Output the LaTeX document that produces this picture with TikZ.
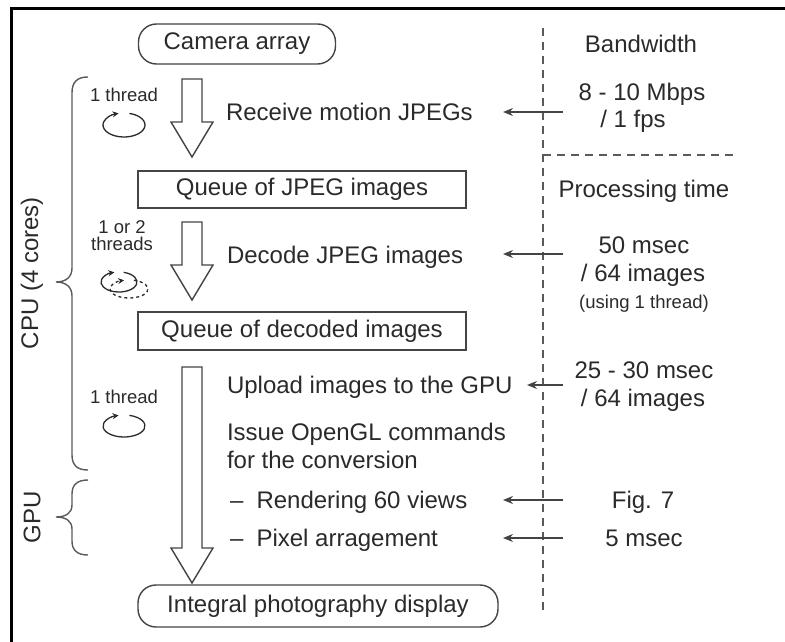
\documentclass[tikz,border=0pt]{standalone}
\usepackage{fontspec}
\setmainfont{Liberation Sans}
\usetikzlibrary{arrows.meta,calc}
\definecolor{ink}{HTML}{2A2A2A}
\definecolor{lin}{HTML}{444444}
\definecolor{brc}{HTML}{5A5A5A}
\newcommand{\blockarrow}[2]{%
  \draw[hollow] ($(#1)+(-10,0)$) -- ($(#1)+(10,0)$) -- ($(#2)+(10,-35)$) -- ($(#2)+(21,-35)$) -- (#2) -- ($(#2)+(-21,-35)$) -- ($(#2)+(-10,-35)$) -- cycle;}
\begin{document}
\begin{tikzpicture}[x=1pt,y=-1pt,
  every node/.style={text=ink, inner sep=0pt, outer sep=0pt},
  big/.style={font=\fontsize{24}{28}\selectfont},
  small/.style={font=\fontsize{18.5}{20}\selectfont},
  qbox/.style={draw=lin, line width=1.4pt, minimum width=328pt, minimum height=37pt, big},
  pill/.style={draw=lin, line width=1.4pt, rounded corners=18pt, minimum height=40pt, big},
  conn/.style={draw=lin, line width=1.4pt, -{Stealth[length=10pt,width=8pt]}},
  hollow/.style={draw=lin, fill=white, line width=1.4pt, line join=miter},
  bracel/.style={draw=brc, line width=1.4pt},
  sepline/.style={draw=brc, line width=1.6pt, dash pattern=on 8pt off 6pt},
  frameline/.style={draw=black, line width=3pt},
  cyc/.style={draw=ink, line width=1.3pt, -{Stealth[length=6pt,width=6pt]}},
]
\useasboundingbox (0,0) rectangle (785,642);
\draw[frameline] (11,642) -- (11,9) -- (785,9);

% separators
\coordinate (vs1) at (543,28);
\coordinate (vs2) at (543,613);
\coordinate (hs1) at (543,155);
\coordinate (hs2) at (737,155);
\draw[sepline] (vs1) -- (vs2);
\draw[sepline] (hs1) -- (hs2);

% main boxes
\node[pill, minimum width=197pt] (cam) at (237,44) {Camera array};
\node[qbox] (q1) at (302,189.5) {Queue of JPEG images};
\node[qbox, minimum height=38pt] (q2) at (302,331) {Queue of decoded images};
\node[pill, minimum width=360pt, minimum height=42pt] (ip) at (318,606) {Integral photography display};

% block arrows
\coordinate (a1s) at (192,79);  \coordinate (a1t) at (192,157);
\coordinate (a2s) at (192,222); \coordinate (a2t) at (192,300);
\coordinate (a3s) at (192,367); \coordinate (a3t) at (192,583);
\blockarrow{a1s}{a1t}
\blockarrow{a2s}{a2t}
\blockarrow{a3s}{a3t}

% step labels
\node[big, anchor=base west] (recv) at (226,121) {Receive motion JPEGs};
\node[big, anchor=base west] (dec) at (227,263) {Decode JPEG images};
\node[big, anchor=base west] (upl) at (227,393) {Upload images to the GPU};
\node[big, anchor=base west] (ogl1) at (227,440) {Issue OpenGL commands};
\node[big, anchor=base west] (ogl2) at (227,468) {for the conversion};
\node[big, anchor=base west] (rend) at (230,508) {–\hspace{0.55em}Rendering 60 views};
\node[big, anchor=base west] (pix) at (230,546) {–\hspace{0.55em}Pixel arragement};

% right column
\node[big, anchor=base] (bw) at (641,53) {Bandwidth};
\node[big, anchor=base] (v1a) at (642,100) {8 - 10 Mbps};
\node[big, anchor=base] (v1b) at (633,127) {/ 1 fps};
\node[big, anchor=base] (pt) at (644,197) {Processing time};
\node[big, anchor=base] (v2a) at (644,253) {50 msec};
\node[big, anchor=base] (v2b) at (643,281) {/ 64 images};
\node[small, anchor=base] (v2c) at (644,308) {(using 1 thread)};
\node[big, anchor=base] (v3a) at (644,378) {25 - 30 msec};
\node[big, anchor=base] (v3b) at (643,406) {/ 64 images};
\node[big, anchor=base] (v4) at (643,508) {Fig. 7};
\node[big, anchor=base] (v5) at (644,546) {5 msec};

% small arrows
\coordinate (s1) at (563,112); \coordinate (e1) at (503,112);
\coordinate (s2) at (563,254); \coordinate (e2) at (503,254);
\coordinate (s3) at (563,385); \coordinate (e3) at (527,385);
\coordinate (s4) at (563,500); \coordinate (e4) at (503,500);
\coordinate (s5) at (563,538); \coordinate (e5) at (503,538);
\draw[conn] (s1) -- (e1);
\draw[conn] (s2) -- (e2);
\draw[conn] (s3) -- (e3);
\draw[conn] (s4) -- (e4);
\draw[conn] (s5) -- (e5);

% thread labels and icons
\node[small, anchor=base] (t1) at (124,102) {1 thread};
\node[small, anchor=base, align=center] (t2a) at (122,233) {1 or 2};
\node[small, anchor=base] (t2b) at (122,250) {threads};
\node[small, anchor=base] (t3) at (124,403) {1 thread};

\draw[cyc] (124,125) ++(-75:21 and 12) arc[start angle=-75, end angle=255, x radius=21, y radius=12];
\draw[cyc, dashed] (129,289) ++(-75:19 and 9) arc[start angle=-75, end angle=255, x radius=19, y radius=9];
\draw[cyc] (119,282) ++(-75:18 and 10) arc[start angle=-75, end angle=255, x radius=18, y radius=10];
\draw[cyc] (124,426) ++(-75:21 and 11) arc[start angle=-75, end angle=255, x radius=21, y radius=11];

% braces
\draw[bracel] (88,77) .. controls (77,77) and (72,82) .. (72,93) -- (72,268) .. controls (72,277) and (66,282) .. (56,282) .. controls (66,282) and (72,287) .. (72,296) -- (72,455) .. controls (72,465) and (77,470) .. (88,470);
\draw[bracel] (88,480) .. controls (77,480) and (72,485) .. (72,494) -- (72,505) .. controls (72,513) and (66,517) .. (56,517) .. controls (66,517) and (72,521) .. (72,529) -- (72,541) .. controls (72,550) and (77,555) .. (88,555);

\node[big, rotate=90] (cpu) at (32,273) {CPU (4 cores)};
\node[big, rotate=90] (gpu) at (32,517) {GPU};
\end{tikzpicture}
\end{document}
